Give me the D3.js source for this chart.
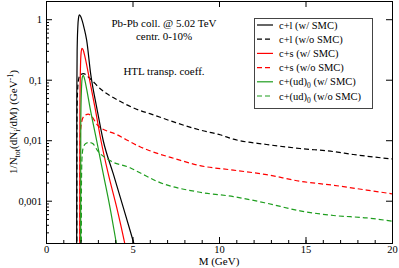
<!DOCTYPE html>
<html><head><meta charset="utf-8">
<script src="https://cdn.jsdelivr.net/npm/d3@7"></script>
<style>body{margin:0;background:#fff}svg{display:block}text{font-family:"Liberation Serif","Times New Roman",serif;fill:#000}</style>
</head><body><svg id="c" width="399" height="268"></svg>
<script>
// ---- data (M in GeV, value = 1/N_tot dN_i/dM in GeV^-1) ----
const clSMC = [[1.77,1e-5],[1.78,0.05],[1.80,0.3],[1.84,0.75],[1.88,1.05],[1.93,1.18],[2.0,1.12],[2.1,0.93],[2.2,0.72],[2.35,0.45],[2.58,0.126],[2.93,0.035],[3.31,0.0098],[3.89,0.00277],[4.47,0.00077],[5.05,0.00021],[5.3,0.00012]];
const clNoSMC = [[1.78,1e-5],[1.79,0.02],[1.82,0.06],[1.88,0.1],[1.98,0.12],[2.16,0.126],[2.54,0.105],[3.12,0.0716],[4.28,0.044],[5.43,0.031],[6.0,0.0275],[7.5,0.0195],[9.0,0.0145],[10.06,0.0123],[10.83,0.0104],[12.75,0.0085],[14.68,0.0073],[16.61,0.0065],[17.77,0.0058],[20,0.0049]];
const csSMC = [[1.95,1e-5],[1.96,0.03],[1.99,0.15],[2.03,0.28],[2.08,0.33],[2.15,0.31],[2.25,0.24],[2.45,0.126],[2.83,0.035],[3.18,0.0098],[3.6,0.00277],[4.09,0.00077],[4.53,0.00021],[4.7,0.00012]];
const csNoSMC = [[1.95,1e-5],[1.96,0.005],[1.99,0.013],[2.06,0.02],[2.2,0.025],[2.45,0.027],[2.6,0.0255],[3.0,0.0175],[4.09,0.0124],[5.43,0.0078],[6.0,0.0067],[7.5,0.0049],[8.9,0.0038],[10.83,0.0032],[12.75,0.0027],[14.68,0.0021],[16.61,0.0018],[18.53,0.0015],[20,0.0013]];
const cudSMC = [[2.0,1e-5],[2.01,0.02],[2.05,0.07],[2.1,0.11],[2.16,0.118],[2.22,0.105],[2.35,0.07],[2.54,0.035],[2.93,0.0098],[3.31,0.00277],[3.7,0.00077],[4.05,0.00021],[4.2,0.00012]];
const cudNoSMC = [[2.04,1e-5],[2.05,0.002],[2.08,0.005],[2.15,0.0075],[2.3,0.0088],[2.5,0.0092],[2.7,0.0088],[3.0,0.0066],[3.7,0.0046],[4.86,0.0035],[5.43,0.0029],[6.4,0.0021],[8.9,0.00138],[10.83,0.00117],[12.75,0.00091],[14.68,0.00068],[16.61,0.00057],[18.53,0.00052],[20,0.00046]];

const seriesNames = ["c+l (w/ SMC)","c+l (w/o SMC)","c+s (w/ SMC)","c+s (w/o SMC)","c+(ud)0 (w/ SMC)","c+(ud)0 (w/o SMC)"];
const seriesData = [clSMC, clNoSMC, csSMC, csNoSMC, cudSMC, cudNoSMC];
const seriesColor = ["#000000","#000000","#ff0000","#ff0000","#1f9e1f","#1f9e1f"];
const seriesDashed = [false,true,false,true,false,true];

const xMajor = [0,5,10,15,20];
const xMinor = d3.range(0,21,1);
const yMajor = [1,0.1,0.01,0.001];
const yMajorLabels = ["1","0,1","0,01","0,001"];

// ---- layout ----
const L=46, R=392, T=1, B=243;
const svg = d3.select("#c");
const x = d3.scaleLinear().domain([0,20]).range([L,R]);
const y = d3.scaleLog().domain([2e-4,2]).range([B,T]);

const yMinor = [];
[1e-4,1e-3,1e-2,1e-1,1].forEach(d=>{for(let k=2;k<=9;k++){const v=k*d; if(v>=2e-4&&v<=2) yMinor.push(v);}});

svg.append("defs").append("clipPath").attr("id","clip").append("rect")
  .attr("x",L).attr("y",T).attr("width",R-L).attr("height",B-T);

// curves
const line = d3.line().x(d=>x(d[0])).y(d=>y(d[1])).curve(d3.curveMonotoneX);
const g = svg.append("g").attr("clip-path","url(#clip)");
seriesData.forEach((s,i)=>{
  g.append("path").attr("d",line(s)).attr("fill","none")
    .attr("stroke",seriesColor[i]).attr("stroke-width",1.2)
    .attr("stroke-dasharray",seriesDashed[i]?"5,3":null);
});

// axes
function styleAxis(sel){sel.select(".domain").attr("stroke","#000").attr("stroke-width",1);
  sel.selectAll(".tick line").attr("stroke","#000").attr("stroke-width",1);
  sel.selectAll("text").style("font-family",'"Liberation Serif",serif').style("font-size","10.5px").attr("fill","#000");}
const gb = svg.append("g").attr("transform",`translate(0,${B})`);
gb.call(d3.axisBottom(x).tickValues(xMinor).tickSize(-3).tickFormat("")).call(styleAxis);
const gb2 = svg.append("g").attr("transform",`translate(0,${B})`);
gb2.call(d3.axisBottom(x).tickValues(xMajor).tickSize(-6).tickPadding(3).tickFormat(d3.format("d"))).call(styleAxis);
const gt = svg.append("g").attr("transform",`translate(0,${T})`);
gt.call(d3.axisTop(x).tickValues(xMinor).tickSize(-3).tickFormat("")).call(styleAxis);
gt.call(d3.axisTop(x).tickValues(xMajor).tickSize(-6).tickFormat("")).call(styleAxis);

const gl = svg.append("g").attr("transform",`translate(${L},0)`);
gl.call(d3.axisLeft(y).tickValues(yMinor).tickSize(-3).tickFormat("")).call(styleAxis);
const gl2 = svg.append("g").attr("transform",`translate(${L},0)`);
gl2.call(d3.axisLeft(y).tickValues(yMajor).tickSize(-6).tickPadding(4).tickFormat((d,i)=>yMajorLabels[i])).call(styleAxis);
const gr = svg.append("g").attr("transform",`translate(${R},0)`);
gr.call(d3.axisRight(y).tickValues(yMinor).tickSize(-3).tickFormat("")).call(styleAxis);
gr.call(d3.axisRight(y).tickValues(yMajor).tickSize(-6).tickFormat("")).call(styleAxis);

// axis labels
svg.append("text").attr("x",219).attr("y",265).attr("text-anchor","middle")
  .style("font-size","11px").text("M (GeV)");
const yl = svg.append("text").attr("transform","translate(17,122) rotate(-90)")
  .attr("text-anchor","middle").style("font-size","11px");
yl.append("tspan").text("1/N");
yl.append("tspan").attr("dy",3).style("font-size","8px").text("tot");
yl.append("tspan").attr("dy",-3).text("(dN");
yl.append("tspan").attr("dy",3).style("font-size","8px").text("i");
yl.append("tspan").attr("dy",-3).text("/dM)  (GeV");
yl.append("tspan").attr("dy",-4).style("font-size","8px").text("-1");
yl.append("tspan").attr("dy",4).text(")");

// annotations
const ann = [["Pb-Pb coll. @ 5.02 TeV",27],["centr. 0-10%",40],["HTL transp. coeff.",75]];
ann.forEach(a=>svg.append("text").attr("x",164).attr("y",a[1]).attr("text-anchor","middle")
  .style("font-size","11px").text(a[0]));

// legend
svg.append("rect").attr("x",254.5).attr("y",18.5).attr("width",118).attr("height",90)
  .attr("fill","#fff").attr("stroke","#444").attr("stroke-width",1);
seriesNames.forEach((n,i)=>{
  const yy = 25 + i*14.2;
  svg.append("line").attr("x1",257).attr("x2",273).attr("y1",yy).attr("y2",yy)
    .attr("stroke",seriesColor[i]).attr("stroke-width",1.2)
    .attr("stroke-dasharray",seriesDashed[i]?"5,3":null);
  const t = svg.append("text").attr("x",279).attr("y",yy+3.5).style("font-size","10.5px");
  if(n.indexOf("(ud)0")>=0){
    const parts = n.split("(ud)0");
    t.append("tspan").text(parts[0]+"(ud)");
    t.append("tspan").attr("dy",3).style("font-size","7.5px").text("0");
    t.append("tspan").attr("dy",-3).text(parts[1]);
  } else t.text(n);
});
</script></body></html>
